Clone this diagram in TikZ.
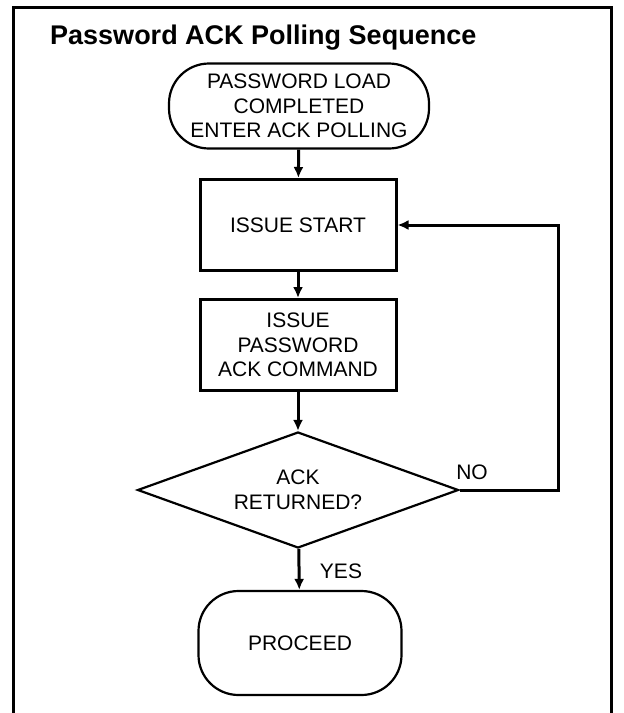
\documentclass[tikz,border=0pt]{standalone}
\usepackage{fontspec}
\setmainfont{Liberation Sans}
\usetikzlibrary{positioning,shapes.geometric,arrows.meta}

\begin{document}
\begin{tikzpicture}[x=1pt,y=-1pt,
    every node/.style={font=\fontsize{21}{24.5}\selectfont,align=center},
    term/.style={draw,line width=2.2pt,rounded corners=40pt,inner sep=0pt},
    procbox/.style={draw,line width=3pt,minimum width=196pt,minimum height=91pt,inner sep=0pt},
    decision/.style={draw,diamond,line width=2.2pt,aspect=2.7,minimum width=321pt,minimum height=116pt,inner sep=0pt},
    flow/.style={line width=3pt,-{Latex[length=11pt,width=10pt]}}]
    \useasboundingbox (0,0) rectangle (624,713);

    % Frame, open at the bottom
    \draw[line width=3pt] (13,713) -- (13,7) -- (611,7) -- (611,713);

    % Title
    \node[anchor=base west,inner sep=0pt,font=\fontsize{27}{30}\selectfont\bfseries] (title) at (50,44) {Password ACK Polling Sequence};

    % Steps
    \node[term,minimum width=260pt,minimum height=85pt] (start) at (299,106) {PASSWORD LOAD\\COMPLETED\\ENTER ACK POLLING};
    \node[procbox] (issue) at (298,225) {ISSUE START};
    \node[procbox] (pwcmd) at (298,345) {ISSUE\\PASSWORD\\ACK COMMAND};
    \node[decision] (ack) at (298,490) {ACK\\RETURNED?};
    \node[term,minimum width=203pt,minimum height=104pt] (proceed) at (300,643) {PROCEED};

    % Labels
    \node (yes) at (341,571) {YES};
    \node (no) at (472,472) {NO};

    % Connectors
    \draw[flow] (start) -- (issue);
    \draw[flow] (issue) -- (pwcmd);
    \draw[flow] (pwcmd) -- (ack);
    \draw[flow] (ack) -- (proceed);
    \coordinate (loop) at (558,490);
    \draw[flow] (ack.east) -- (loop) |- (issue.east);
\end{tikzpicture}
\end{document}
